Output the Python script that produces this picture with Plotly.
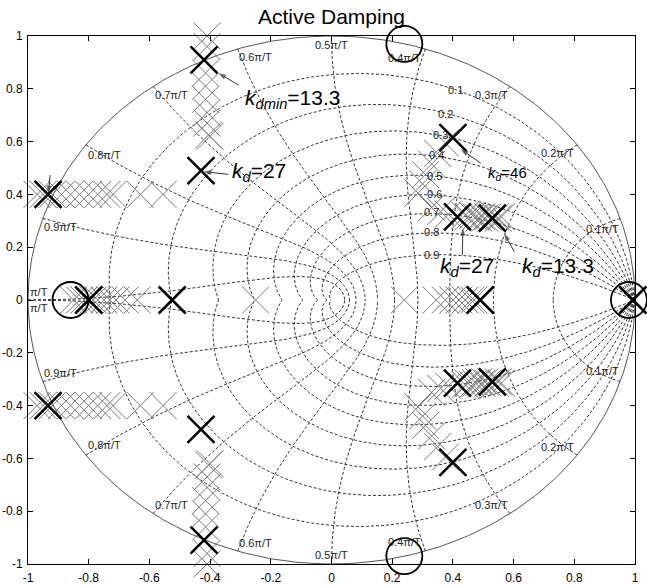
import numpy as np
import plotly.graph_objects as go

# ---------------- data ----------------
title_text = "Active Damping"
tick_vals = [-1, -0.8, -0.6, -0.4, -0.2, 0, 0.2, 0.4, 0.6, 0.8, 1]
tick_text = ["-1", "-0.8", "-0.6", "-0.4", "-0.2", "0", "0.2", "0.4", "0.6", "0.8", "1"]

# zgrid: damping ratios and natural frequencies (units of pi/T)
zeta_vals = [0.1, 0.2, 0.3, 0.4, 0.5, 0.6, 0.7, 0.8, 0.9]
wn_vals = [0.1, 0.2, 0.3, 0.4, 0.5, 0.6, 0.7, 0.8, 0.9, 1.0]

# damping labels (upper half only)
zeta_labels = ["0.1", "0.2", "0.3", "0.4", "0.5", "0.6", "0.7", "0.8", "0.9"]
zeta_label_x = [0.41, 0.376, 0.36, 0.345, 0.34, 0.34, 0.33, 0.33, 0.33]
zeta_label_y = [0.795, 0.705, 0.625, 0.55, 0.47, 0.40, 0.333, 0.258, 0.17]

# natural-frequency labels (upper half; mirrored below)
wn_labels_right = ["0.1\u03c0/T", "0.2\u03c0/T", "0.3\u03c0/T", "0.4\u03c0/T"]
wn_right_x = [0.954, 0.805, 0.587, 0.30]
wn_right_y = [0.27, 0.557, 0.776, 0.917]
wn_labels_left = ["0.6\u03c0/T", "0.7\u03c0/T", "0.8\u03c0/T", "0.9\u03c0/T", "\u03c0/T"]
wn_left_x = [-0.31, -0.588, -0.81, -0.955, -1.0]
wn_left_y = [0.92, 0.776, 0.549, 0.275, 0.03]
wn_label_mid = "0.5\u03c0/T"
wn_mid_x = [0.0]
wn_mid_y = [0.966]

# closed-loop poles for the swept k_d (grey), upper half -> mirrored
grey_up_x = [-0.41, -0.41, -0.415, -0.415, -0.415, -0.41, -0.41, -0.405, -0.40,
             -0.97, -0.95, -0.92, -0.89, -0.86, -0.83, -0.80, -0.77, -0.74, -0.72, -0.63, -0.555,
             0.375, 0.35, 0.33, 0.31, 0.30, 0.285, 0.33, 0.36, 0.385,
             0.44, 0.45, 0.465, 0.475, 0.485, 0.495, 0.505, 0.515, 0.525, 0.54, 0.55, 0.56]
grey_up_y = [1.0, 0.96, 0.86, 0.81, 0.76, 0.71, 0.67, 0.625, 0.62,
             0.40, 0.40, 0.40, 0.40, 0.40, 0.40, 0.40, 0.40, 0.40, 0.40, 0.40, 0.40,
             0.595, 0.555, 0.515, 0.475, 0.44, 0.405, 0.35, 0.335, 0.325,
             0.32, 0.315, 0.32, 0.315, 0.31, 0.315, 0.31, 0.315, 0.31, 0.315, 0.31, 0.315]
# grey poles on the real axis
grey_real_x = [-0.85, -0.83, -0.815, -0.80, -0.785, -0.77, -0.75, -0.73, -0.71, -0.68, -0.64,
               -0.25, 0.24, 0.345, 0.375, 0.40, 0.42, 0.44, 0.46, 0.47]

# highlighted poles (k_d = 13.3, 27, 46)
bold_up_x = [-0.42, -0.43, -0.934, 0.40, 0.415, 0.53]
bold_up_y = [0.91, 0.49, 0.40, 0.615, 0.315, 0.31]
bold_real_x = [-0.80, -0.525, 0.49, 0.993]

# zeros
zero_up_x = [0.24]
zero_up_y = [0.97]
zero_real_x = [-0.86, 0.98]

# annotation texts with arrows (tip, tail) and label positions
ann_texts = ["<i>k</i><sub><i>dmin</i></sub>=13.3", "<i>k</i><sub><i>d</i></sub>=27",
             "<i>k</i><sub><i>d</i></sub>=46", "<i>k</i><sub><i>d</i></sub>=46",
             "<i>k</i><sub><i>d</i></sub>=27", "<i>k</i><sub><i>d</i></sub>=13.3"]
ann_x = [-0.29, -0.335, -1.015, 0.51, 0.35, 0.62]
ann_y = [0.76, 0.485, 0.545, 0.48, 0.125, 0.125]
ann_size = [21, 21, 21, 15, 21, 21]
arrow_tip_x = [-0.372, -0.421, -0.933, 0.426, 0.433, 0.569]
arrow_tip_y = [0.859, 0.486, 0.404, 0.571, 0.272, 0.252]
arrow_tail_x = [-0.306, -0.34, -0.927, 0.492, 0.431, 0.602]
arrow_tail_y = [0.814, 0.476, 0.473, 0.518, 0.170, 0.183]

FONT = "Liberation Sans, Arial, sans-serif"

fig = go.Figure()

# ---------------- zgrid ----------------
grid_style = dict(color="#333333", width=1, dash="3px,2px")
th = np.linspace(0, 2 * np.pi, 400)
fig.add_trace(go.Scatter(x=np.cos(th), y=np.sin(th), mode="lines",
                         line=dict(color="#555555", width=1), hoverinfo="skip", showlegend=False))
w = np.linspace(0, np.pi, 300)
for z in zeta_vals:
    m = np.tan(np.arcsin(z))
    zz = np.exp(w * (-m + 1j))
    for sgn in (1, -1):
        fig.add_trace(go.Scatter(x=zz.real, y=sgn * zz.imag, mode="lines", line=grid_style,
                                 hoverinfo="skip", showlegend=False))
thq = np.linspace(np.pi / 2, np.pi, 200)
for wn in wn_vals:
    zz = np.exp(wn * np.pi * np.exp(1j * thq))
    for sgn in (1, -1):
        fig.add_trace(go.Scatter(x=zz.real, y=sgn * zz.imag, mode="lines", line=grid_style,
                                 hoverinfo="skip", showlegend=False))

# ---------------- poles / zeros ----------------
MS = 27
gx = list(grey_up_x) + list(grey_up_x) + list(grey_real_x)
gy = list(grey_up_y) + [-v for v in grey_up_y] + [0] * len(grey_real_x)
fig.add_trace(go.Scatter(x=gx, y=gy, mode="markers", cliponaxis=False, showlegend=False,
                         marker=dict(symbol="x-thin", size=MS,
                                     line=dict(color="#777777", width=1))))
bx = list(bold_up_x) + list(bold_up_x) + list(bold_real_x)
by = list(bold_up_y) + [-v for v in bold_up_y] + [0] * len(bold_real_x)
fig.add_trace(go.Scatter(x=bx, y=by, mode="markers", cliponaxis=False, showlegend=False,
                         marker=dict(symbol="x-thin", size=MS,
                                     line=dict(color="black", width=2.5))))
zx = list(zero_up_x) + list(zero_up_x) + list(zero_real_x)
zy = list(zero_up_y) + [-v for v in zero_up_y] + [0] * len(zero_real_x)
fig.add_trace(go.Scatter(x=zx, y=zy, mode="markers", cliponaxis=False, showlegend=False,
                         marker=dict(symbol="circle-open", size=36, color="black",
                                     line=dict(width=1.8))))

# arrows as line + arrowhead marker
for tx, ty, ax, ay in zip(arrow_tip_x, arrow_tip_y, arrow_tail_x, arrow_tail_y):
    fig.add_trace(go.Scatter(x=[ax, tx], y=[ay, ty], mode="lines+markers", showlegend=False,
                             hoverinfo="skip", cliponaxis=False,
                             line=dict(color="#333333", width=1),
                             marker=dict(symbol=["circle", "arrow"], size=[0.1, 8],
                                         angleref="previous", color="#222222",
                                         line=dict(width=0))))

annotations = []
small = dict(family=FONT, size=11, color="#222222")
for t, x, y in zip(zeta_labels, zeta_label_x, zeta_label_y):
    annotations.append(dict(x=x, y=y, text=t, showarrow=False, font=small,
                            xanchor="center", yanchor="middle"))
for sgn in (1, -1):
    for t, x, y in zip(wn_labels_right, wn_right_x, wn_right_y):
        annotations.append(dict(x=x, y=sgn * y, text=t, showarrow=False, font=small,
                                xanchor="right", yanchor="middle"))
    for t, x, y in zip(wn_labels_left, wn_left_x, wn_left_y):
        annotations.append(dict(x=x, y=sgn * y, text=t, showarrow=False, font=small,
                                xanchor="left", yanchor="middle"))
    for x, y in zip(wn_mid_x, wn_mid_y):
        annotations.append(dict(x=x, y=sgn * y, text=wn_label_mid, showarrow=False, font=small,
                                xanchor="center", yanchor="middle"))

for t, x, y, s in zip(ann_texts, ann_x, ann_y, ann_size):
    annotations.append(dict(x=x, y=y, text=t, showarrow=False, xanchor="left", yanchor="middle",
                            font=dict(family=FONT, size=s, color="black")))

axis_common = dict(range=[-1, 1], tickvals=tick_vals, ticktext=tick_text, ticks="inside",
                   ticklen=5, tickcolor="black", showline=True, linecolor="black", linewidth=1,
                   mirror="ticks", showgrid=False, zeroline=False, automargin=False,
                   tickfont=dict(family=FONT, size=12, color="black"))

fig.update_layout(
    width=647, height=585,
    margin=dict(l=28, r=12, t=36, b=21, autoexpand=False),
    paper_bgcolor="white", plot_bgcolor="white",
    title=dict(text=title_text, x=0.5, xref="paper", xanchor="center",
               y=1 - 17 / 585, yref="container", yanchor="middle",
               font=dict(family=FONT, size=21, color="black")),
    xaxis=dict(axis_common, ticklabelstandoff=3),
    yaxis=dict(axis_common, ticklabelstandoff=2),
    annotations=annotations,
    showlegend=False,
)

# remove the browser's default 8 px body margin so the figure fills the window
fig.write_html("out.html", config={"displayModeBar": False},
               post_script="document.body.style.margin='0';")
